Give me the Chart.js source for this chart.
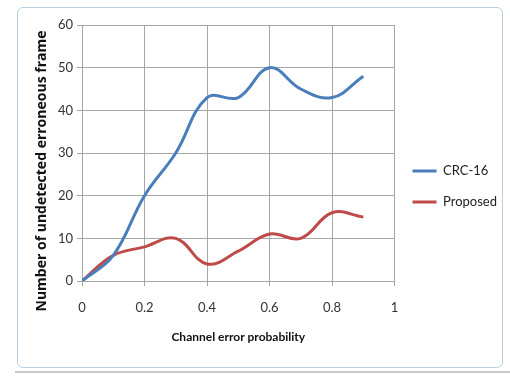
<!DOCTYPE html>
<html>
<head>
<meta charset="utf-8">
<script src="https://cdn.jsdelivr.net/npm/chart.js@4.4.1/dist/chart.umd.min.js"></script>
<style>
  html, body { margin: 0; padding: 0; background: #ffffff; }
  #wrap { position: relative; width: 510px; height: 378px; overflow: hidden; }
  #frame {
    position: absolute; left: 17px; top: 7px; width: 486px; height: 361px;
    border: 1px solid #b8d0e0; border-radius: 6px; box-sizing: border-box;
  }
  #edge { position: absolute; left: 15px; top: 371px; width: 495px; height: 2px; background: #c8c8c8; }
  canvas { position: absolute; left: 0; top: 0; }
</style>
</head>
<body>
<div id="wrap">
  <div id="frame"></div>
  <div id="edge"></div>
  <canvas id="c" width="510" height="378"></canvas>
</div>
<script>
// Channel error probability samples
const errorProbability = [0, 0.1, 0.2, 0.3, 0.4, 0.5, 0.6, 0.7, 0.8, 0.9];
// Undetected erroneous frames per scheme
const crc16 = [0, 6, 20, 30, 43, 43, 50, 45, 43, 48];
const proposed = [0, 6, 8, 10, 4, 7, 11, 10, 16, 15];
const xTicks = [0, 0.2, 0.4, 0.6, 0.8, 1];
const yTicks = [0, 10, 20, 30, 40, 50, 60];
const yTitle = 'Number of undetected erroneous frame';

const FONT = 'Lato, "Open Sans", sans-serif';

function toPoints(ys) {
  return errorProbability.map((x, i) => ({ x: x, y: ys[i] }));
}

// Vertical axis title, drawn a little below the axis midpoint
const yTitlePlugin = {
  id: 'yTitle',
  afterDraw(chart) {
    const ctx = chart.ctx;
    const area = chart.chartArea;
    ctx.save();
    ctx.translate(42, (area.top + area.bottom) / 2 + 18);
    ctx.rotate(-Math.PI / 2);
    ctx.font = 'bold 14px "Open Sans", Lato, sans-serif';
    ctx.fillStyle = '#111';
    ctx.textAlign = 'center';
    ctx.textBaseline = 'middle';
    ctx.fillText(yTitle, 0, 0);
    ctx.restore();
  }
};

new Chart(document.getElementById('c'), {
  type: 'scatter',
  data: {
    datasets: [
      { label: 'CRC-16', data: toPoints(crc16), showLine: true, borderColor: '#4a7ebb',
        backgroundColor: '#4a7ebb', borderWidth: 3, pointRadius: 0, tension: 0.4 },
      { label: 'Proposed', data: toPoints(proposed), showLine: true, borderColor: '#be4b48',
        backgroundColor: '#be4b48', borderWidth: 3, pointRadius: 0, tension: 0.4 }
    ]
  },
  options: {
    responsive: false,
    animation: false,
    layout: { padding: { left: 52, top: 25, right: 3, bottom: 30 } },
    plugins: {
      tooltip: { enabled: false },
      legend: {
        position: 'right',
        align: 'center',
        labels: {
          usePointStyle: true,
          pointStyle: 'line',
          pointStyleWidth: 24,
          boxWidth: 24,
          padding: 18,
          color: '#222',
          font: { family: FONT, size: 13 }
        }
      }
    },
    scales: {
      x: {
        type: 'linear',
        min: 0, max: 1,
        afterBuildTicks: (s) => { s.ticks = xTicks.map(v => ({ value: v })); },
        grid: { color: '#a6a6a6', lineWidth: 1, tickLength: 5, drawTicks: true },
        border: { color: '#a6a6a6' },
        ticks: { color: '#333', padding: 14, font: { family: FONT, size: 13 },
                 callback: (v) => String(v) },
        title: { display: true, text: 'Channel error probability', color: '#111',
                 padding: { top: 0 }, font: { family: FONT, size: 12, weight: 'bold' } }
      },
      y: {
        min: 0, max: 60,
        afterBuildTicks: (s) => { s.ticks = yTicks.map(v => ({ value: v })); },
        afterFit: (s) => { s.width = 30; },
        grid: { color: '#a6a6a6', lineWidth: 1, tickLength: 5 },
        border: { color: '#a6a6a6' },
        ticks: { color: '#333', padding: 4, font: { family: FONT, size: 13 } }
      }
    }
  },
  plugins: [yTitlePlugin]
});
</script>
</body>
</html>
